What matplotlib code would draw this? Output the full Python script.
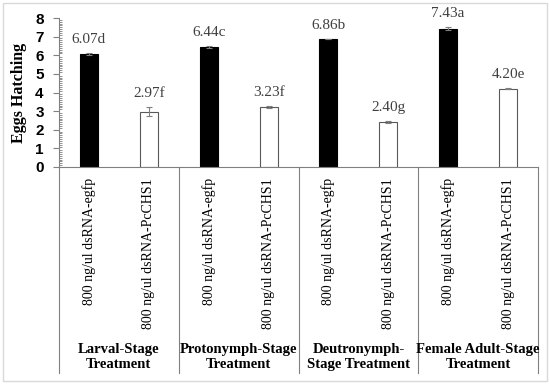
import matplotlib
matplotlib.use("Agg")
import matplotlib.pyplot as plt
from matplotlib.patches import Rectangle
import matplotlib.transforms as mtransforms

groups = ["Larval-Stage\nTreatment", "Protonymph-Stage\nTreatment",
          "Deutronymph-\nStage Treatment", "Female Adult-Stage\nTreatment"]
treatments = ["800 ng/ul dsRNA-egfp", "800 ng/ul dsRNA-PcCHS1"]
egfp_values = [6.07, 6.44, 6.86, 7.43]
egfp_errors = [0.03, 0.06, 0.01, 0.07]
egfp_letters = ["d", "c", "b", "a"]
pcchs1_values = [2.97, 3.23, 2.40, 4.20]
pcchs1_errors = [0.25, 0.05, 0.06, 0.03]
pcchs1_letters = ["f", "f", "g", "e"]
y_ticks = [0, 1, 2, 3, 4, 5, 6, 7, 8]

fig = plt.figure(figsize=(5.5, 3.85), dpi=100)
fig.patches.append(Rectangle((3/550, 4/385), 544/550, 378/385, transform=fig.transFigure,
                             fill=False, edgecolor="#d9d9d9", linewidth=1.0))
ax = fig.add_axes([59/550, 1-167/385, (538-59)/550, (167-18)/385])

serif = ["Liberation Serif", "DejaVu Serif"]
n = len(groups)
xs_e = [2*i for i in range(n)]
xs_p = [2*i + 1 for i in range(n)]

ax.bar(xs_e, egfp_values, width=0.3, color="black", edgecolor="black", linewidth=0.8)
ax.bar(xs_p, pcchs1_values, width=0.3, color="white", edgecolor="#595959", linewidth=0.8)
ax.errorbar(xs_e, egfp_values, yerr=egfp_errors, fmt="none", ecolor="#7f7f7f",
            elinewidth=0.8, capsize=2.5, capthick=0.8)
ax.errorbar(xs_p, pcchs1_values, yerr=pcchs1_errors, fmt="none", ecolor="#7f7f7f",
            elinewidth=0.8, capsize=2.5, capthick=0.8)

for x, v, e, l in zip(xs_e, egfp_values, egfp_errors, egfp_letters):
    ax.annotate(f"{v:.2f}{l}", (x, v + e), xytext=(0, 5), textcoords="offset points",
                ha="center", va="bottom", fontsize=11, color="#404040", family=serif)
for x, v, e, l in zip(xs_p, pcchs1_values, pcchs1_errors, pcchs1_letters):
    ax.annotate(f"{v:.2f}{l}", (x, v + e), xytext=(0, 5), textcoords="offset points",
                ha="center", va="bottom", fontsize=11, color="#404040", family=serif)

ax.set_xlim(-0.5, 2*n - 0.5)
ax.set_ylim(0, 8)
ax.set_yticks(y_ticks)
ax.set_yticklabels([str(t) for t in y_ticks], fontsize=11, fontweight="bold",
                   family=["Liberation Sans", "DejaVu Sans"])
ax.yaxis.set_minor_locator(matplotlib.ticker.MultipleLocator(0.1))
ax.tick_params(axis="y", which="major", direction="out", length=4, width=0.8,
               color="#808080", pad=7)
ax.tick_params(axis="y", which="minor", direction="in", length=2.5, width=0.6, color="#808080")

xt = []
xl = []
for i in range(n):
    xt += [xs_e[i], xs_p[i]]
    xl += treatments
ax.set_xticks(xt)
ax.set_xticklabels(xl, rotation=90, fontsize=10, family=serif, va="top")
ax.tick_params(axis="x", length=0, pad=8)

for s in ["top", "right"]:
    ax.spines[s].set_visible(False)
ax.spines["left"].set_color("#808080")
ax.spines["bottom"].set_color("#808080")
ax.spines["left"].set_linewidth(0.8)
ax.spines["bottom"].set_linewidth(0.8)

trans = mtransforms.blended_transform_factory(ax.transData, ax.transAxes)
ybot = -(373 - 167) / 149
for k in range(n + 1):
    xv = 2*k - 0.5
    ax.plot([xv, xv], [0, ybot], transform=trans, color="#808080", linewidth=0.8, clip_on=False)

for i, g in enumerate(groups):
    ax.text(2*i + 0.5, -(357 - 167) / 149, g, transform=trans, ha="center", va="center",
            fontsize=10.5, fontweight="bold", family=serif, linespacing=1.25)

ax.set_ylabel("Eggs Hatching", fontsize=11.5, fontweight="bold", family=serif, labelpad=6)

fig.savefig("out.png", dpi=100)
